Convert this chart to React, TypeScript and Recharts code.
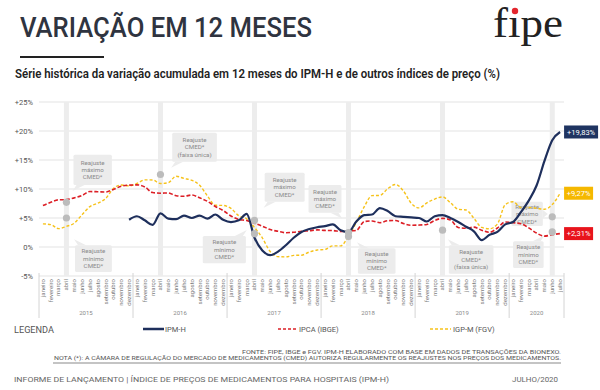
import React from "react";
import {
  ComposedChart,
  Line,
  Scatter,
  XAxis,
  YAxis,
  CartesianGrid,
  ReferenceLine,
  ReferenceArea,
} from "recharts";

const MONTH_NAMES = [
  "janeiro", "fevereiro", "março", "abril", "maio", "junho",
  "julho", "agosto", "setembro", "outubro", "novembro", "dezembro",
];
const YEARS = ["2015", "2016", "2017", "2018", "2019", "2020"];
// jan/2015 .. jul/2020
const months = Array.from({ length: 67 }, (_, i) => MONTH_NAMES[i % 12]);

const ipmh = [
  null, null, null, null, null, null, null, null, null, null, null, 4.7,
  5.3, 4.6, 3.8, 5.8, 4.9, 4.8, 5.4, 5.0, 5.4, 4.9, 5.6, 4.7,
  4.3, 4.6, 5.7, 1.6, -0.6, -1.4, -0.8, 0.3, 1.6, 2.6, 3.1, 3.4,
  3.6, 3.9, 2.9, 2.6, 4.4, 5.5, 5.6, 6.7, 6.2, 5.3, 5.2, 5.1,
  5.0, 4.4, 5.3, 5.5, 5.0, 4.3, 3.5, 2.7, 1.2, 2.1, 2.6, 3.9,
  4.3, 6.0, 8.0, 10.6, 14.8, 18.4, 19.83,
];
const ipca = [
  7.14, 7.7, 8.13, 8.17, 8.47, 8.89, 9.56, 9.53, 9.49, 9.93, 10.48, 10.67,
  10.71, 10.36, 9.39, 9.28, 9.32, 8.84, 8.74, 8.97, 8.48, 7.87, 6.99, 6.29,
  5.35, 4.76, 4.57, 4.08, 3.6, 3.0, 2.71, 2.46, 2.54, 2.7, 2.8, 2.95,
  2.86, 2.84, 2.68, 2.76, 2.86, 4.39, 4.48, 4.19, 4.53, 4.56, 4.05, 3.75,
  3.78, 3.89, 4.58, 4.94, 4.66, 3.37, 3.22, 3.43, 2.89, 2.54, 3.27, 4.31,
  4.19, 4.01, 3.3, 2.4, 1.88, 2.13, 2.31,
];
const igpm = [
  3.98, 3.86, 3.16, 3.55, 4.11, 5.58, 6.97, 7.55, 8.35, 10.09, 10.69, 10.54,
  10.95, 11.58, 11.56, 10.95, 11.09, 12.21, 11.82, 11.49, 10.66, 8.78, 7.2, 7.17,
  6.65, 5.38, 4.86, 3.37, 1.57, -0.78, -1.66, -1.71, -1.45, -1.41, -0.86, -0.52,
  -0.41, 0.2, 0.2, 1.89, 4.26, 6.92, 8.86, 8.89, 10.04, 10.79, 9.68, 7.55,
  6.74, 7.6, 8.27, 8.64, 7.64, 6.51, 6.39, 4.95, 3.37, 3.15, 3.97, 7.3,
  7.81, 6.82, 6.81, 6.68, 6.51, 7.31, 9.27,
];

// months with a CMED adjustment (grey bands) and the adjustment values
const cmedMonths = [3, 15, 27, 39, 51, 65];
const cmedDots = [
  { i: 3, v: 7.7 }, { i: 3, v: 5.0 },
  { i: 15, v: 12.5 },
  { i: 27, v: 4.6 }, { i: 27, v: 2.3 },
  { i: 39, v: 2.5 }, { i: 39, v: 1.8 },
  { i: 51, v: 2.9 },
  { i: 65, v: 5.2 }, { i: 65, v: 2.6 },
];

const yTicks = [-5, 0, 5, 10, 15, 20, 25];
const yearCenters = [5.5, 17.5, 29.5, 41.5, 53.5, 63];
const yearBounds = [-0.5, 11.5, 23.5, 35.5, 47.5, 59.5, 66.5];

const MAX = ["Reajuste", "máximo", "CMED*"];
const MIN = ["Reajuste", "mínimo", "CMED*"];
const UNICA = ["Reajuste", "CMED*", "(faixa única)"];
const notes = [
  { x1: 3.9, x2: 8.8, y1: 10.7, y2: 15.9, lines: MAX, tip: "bl" },
  { x1: 4.1, x2: 8.8, y1: -4.3, y2: 0.3, lines: MIN, tip: "tl" },
  { x1: 16.5, x2: 22.2, y1: 14.7, y2: 19.7, lines: UNICA, tip: "bl" },
  { x1: 28.3, x2: 33.4, y1: 7.8, y2: 12.8, lines: MAX, tip: "bl" },
  { x1: 33.9, x2: 38.1, y1: 5.9, y2: 10.7, lines: MAX, tip: "br" },
  { x1: 20.4, x2: 25.9, y1: -2.8, y2: 1.9, lines: MIN, tip: "tr" },
  { x1: 40.2, x2: 45.0, y1: -4.6, y2: -0.2, lines: MIN, tip: "tl" },
  { x1: 51.8, x2: 57.5, y1: -4.6, y2: 0.3, lines: UNICA, tip: "tl" },
  { x1: 59.8, x2: 63.8, y1: 3.6, y2: 7.8, lines: MAX, tip: "r" },
  { x1: 60.0, x2: 63.9, y1: -3.6, y2: 1.0, lines: MIN, tip: "tr" },
];

const rows = months.map((m, i) => ({
  i,
  month: m,
  ipmh: ipmh[i],
  ipca: ipca[i],
  igpm: igpm[i],
}));

const FONT = "Roboto, 'Open Sans', sans-serif";
const NAVY = "#1e2f5c";
const RED = "#dc1f26";
const YELLOW = "#f6c21a";

const MonthTick = (props: any) => {
  const { x, y, payload } = props;
  return (
    <text
      x={x}
      y={y}
      transform={`rotate(-90 ${x} ${y})`}
      textAnchor="end"
      dy="0.32em"
      fontSize={6}
      fill="#7c7c7c"
      fontFamily={FONT}
    >
      {months[payload.value]}
    </text>
  );
};

const YearTick = (props: any) => {
  const { x, y, payload } = props;
  const k = yearCenters.indexOf(payload.value);
  if (k >= 0) {
    return (
      <text x={x} y={y + 7} textAnchor="middle" dy="0.35em" fontSize={6} fill="#8a8a8a" fontFamily={FONT}>
        {YEARS[k]}
      </text>
    );
  }
  return <line x1={x} x2={x} y1={y - 33} y2={y + 12} stroke="#d4d4d4" strokeWidth={1} />;
};

const noteShape = (n: any) => (p: any) => {
  const { x, y, width: w, height: h } = p;
  let tri = "";
  if (n.tip === "bl") tri = `${x + 3},${y + h} ${x + 11},${y + h} ${x - 1},${y + h + 6}`;
  if (n.tip === "br") tri = `${x + w - 11},${y + h} ${x + w - 3},${y + h} ${x + w + 1},${y + h + 6}`;
  if (n.tip === "tl") tri = `${x + 3},${y} ${x + 11},${y} ${x - 1},${y - 6}`;
  if (n.tip === "tr") tri = `${x + w - 11},${y} ${x + w - 3},${y} ${x + w + 1},${y - 6}`;
  if (n.tip === "r") tri = `${x + w},${y + h / 2 - 4} ${x + w},${y + h / 2 + 4} ${x + w + 5},${y + h / 2}`;
  const c = (n.lines.length - 1) / 2;
  return (
    <g>
      <rect x={x} y={y} width={w} height={h} fill="#ececec" rx={1.5} />
      {tri && <polygon points={tri} fill="#ececec" />}
      {n.lines.map((t: string, k: number) => (
        <text
          key={k}
          x={x + w / 2}
          y={y + h / 2 + (k - c) * 7.4}
          dy="0.35em"
          textAnchor="middle"
          fontSize={6.2}
          fill="#8a8a8a"
          fontFamily={FONT}
        >
          {t}
        </text>
      ))}
    </g>
  );
};

const endLabel = (fill: string, w: number) => (p: any) => {
  const { x, y, index, value } = p;
  if (index !== rows.length - 1) return null;
  const txt = `+${Number(value).toFixed(2).replace(".", ",")}%`;
  return (
    <g>
      <rect x={x + 4} y={y - 6.5} width={w} height={13} fill={fill} />
      <text x={x + 4 + w / 2} y={y} dy="0.35em" textAnchor="middle" fontSize={7.5} fill="#fff" fontFamily={FONT}>
        {txt}
      </text>
    </g>
  );
};

const dotShape = (p: any) => <circle cx={p.cx} cy={p.cy} r={3.6} fill="#bcbcbc" />;

export default function App() {
  return (
    <div
      style={{
        position: "absolute",
        left: 0,
        top: 0,
        width: 600,
        height: 390,
        background: "#fff",
        overflow: "hidden",
      }}
    >
      <svg width={600} height={390} style={{ position: "absolute", left: 0, top: 0 }}>
        <text x={20} y={37} fontSize={28} fontWeight={500} fill="#2f3440" fontFamily={FONT} textLength={292} lengthAdjust="spacingAndGlyphs">
          VARIAÇÃO EM 12 MESES
        </text>
        <rect x={20} y={56} width={84} height={2} fill="#222" />
        <text x={15} y={78} fontSize={12} fontWeight={600} fill="#222" fontFamily={FONT} textLength={485} lengthAdjust="spacingAndGlyphs">
          Série histórica da variação acumulada em 12 meses do IPM-H e de outros índices de preço (%)
        </text>
        <text x={493} y={37} fontSize={42} fill="#222" fontFamily="'Liberation Serif', 'DejaVu Serif', serif" textLength={70} lengthAdjust="spacingAndGlyphs">
          fıpe
        </text>
        <circle cx={515} cy={11} r={3.2} fill="#e3262e" />

        <text x={14} y={330} dy="0.35em" fontSize={9.5} fill="#555" fontFamily={FONT} textLength={40} lengthAdjust="spacingAndGlyphs">
          LEGENDA
        </text>
        <line x1={143} x2={164} y1={329} y2={329} stroke={NAVY} strokeWidth={2.5} />
        <text x={165} y={329} dy="0.35em" fontSize={7.5} fill="#555" fontFamily={FONT}>IPM-H</text>
        <line x1={278} x2={298} y1={329} y2={329} stroke={RED} strokeWidth={1.6} strokeDasharray="3 2" />
        <text x={299} y={329} dy="0.35em" fontSize={7.5} fill="#555" fontFamily={FONT}>IPCA (IBGE)</text>
        <line x1={430} x2={451} y1={329} y2={329} stroke={YELLOW} strokeWidth={1.4} strokeDasharray="3 2" />
        <text x={453} y={329} dy="0.35em" fontSize={7.5} fill="#555" fontFamily={FONT}>IGP-M (FGV)</text>

        <text x={561} y={352} dy="0.35em" textAnchor="end" fontSize={5.5} fill="#555" fontFamily={FONT} textLength={319} lengthAdjust="spacingAndGlyphs">
          FONTE: FIPE, IBGE e FGV. IPM-H ELABORADO COM BASE EM DADOS DE TRANSAÇÕES DA BIONEXO.
        </text>
        <text x={561} y={358} dy="0.35em" textAnchor="end" fontSize={5.5} fill="#555" fontFamily={FONT} textLength={507} lengthAdjust="spacingAndGlyphs">
          NOTA (*): A CÂMARA DE REGULAÇÃO DO MERCADO DE MEDICAMENTOS (CMED) AUTORIZA REGULARMENTE OS REAJUSTES NOS PREÇOS DOS MEDICAMENTOS.
        </text>
        <rect x={53} y={362} width={508} height={2} fill="#c4c4c4" />
        <text x={14} y={380} dy="0.35em" fontSize={7} fill="#666" fontFamily={FONT} textLength={375} lengthAdjust="spacingAndGlyphs">
          INFORME DE LANÇAMENTO | ÍNDICE DE PREÇOS DE MEDICAMENTOS PARA HOSPITAIS (IPM-H)
        </text>
        <text x={558} y={380} dy="0.35em" textAnchor="end" fontSize={7} fill="#666" fontFamily={FONT} textLength={46} lengthAdjust="spacingAndGlyphs">
          JULHO/2020
        </text>
      </svg>

      <div style={{ position: "absolute", left: 0, top: 0 }}>
        <ComposedChart width={600} height={322} data={rows} margin={{ top: 102, right: 36, bottom: 0, left: 0 }}>
          <CartesianGrid xAxisId="m" vertical={false} stroke="#e3e3e3" />
          <XAxis
            xAxisId="m"
            type="number"
            dataKey="i"
            domain={[-0.5, 66.5]}
            ticks={rows.map((r) => r.i)}
            interval={0}
            tick={MonthTick}
            tickLine={false}
            axisLine={false}
            tickSize={0}
            tickMargin={3}
            height={30}
            allowDataOverflow
          />
          <XAxis
            xAxisId="yr"
            type="number"
            dataKey="i"
            domain={[-0.5, 66.5]}
            ticks={[...yearBounds, ...yearCenters].sort((a, b) => a - b)}
            interval={0}
            tick={YearTick}
            tickLine={false}
            axisLine={false}
            tickSize={0}
            tickMargin={0}
            height={16}
            allowDataOverflow
          />
          <YAxis
            domain={[-5, 25]}
            ticks={yTicks}
            width={39}
            tickLine={false}
            axisLine={false}
            tickSize={0}
            tickMargin={6}
            tick={{ fontSize: 7.5, fill: "#555", fontFamily: FONT }}
            tickFormatter={(v: number) => (v > 0 ? `+${v}%` : `${v}%`)}
          />
          {cmedMonths.map((m) => (
            <ReferenceLine key={m} xAxisId="m" x={m} stroke="#ededed" strokeWidth={5} />
          ))}
          {notes.map((n, k) => (
            <ReferenceArea key={k} xAxisId="m" x1={n.x1} x2={n.x2} y1={n.y1} y2={n.y2} shape={noteShape(n)} />
          ))}
          <Line
            xAxisId="m"
            type="monotone"
            dataKey="igpm"
            stroke={YELLOW}
            strokeWidth={1.4}
            strokeDasharray="3 2"
            dot={false}
            isAnimationActive={false}
            label={endLabel("#f5b800", 29)}
          />
          <Line
            xAxisId="m"
            type="monotone"
            dataKey="ipca"
            stroke={RED}
            strokeWidth={1.6}
            strokeDasharray="4 2"
            dot={false}
            isAnimationActive={false}
            label={endLabel("#e8141c", 29)}
          />
          <Line
            xAxisId="m"
            type="monotone"
            dataKey="ipmh"
            stroke={NAVY}
            strokeWidth={2.2}
            dot={false}
            connectNulls={false}
            isAnimationActive={false}
            label={endLabel("#1f3461", 34)}
          />
          <Scatter xAxisId="m" data={cmedDots} dataKey="v" shape={dotShape} isAnimationActive={false} />
        </ComposedChart>
      </div>
    </div>
  );
}
